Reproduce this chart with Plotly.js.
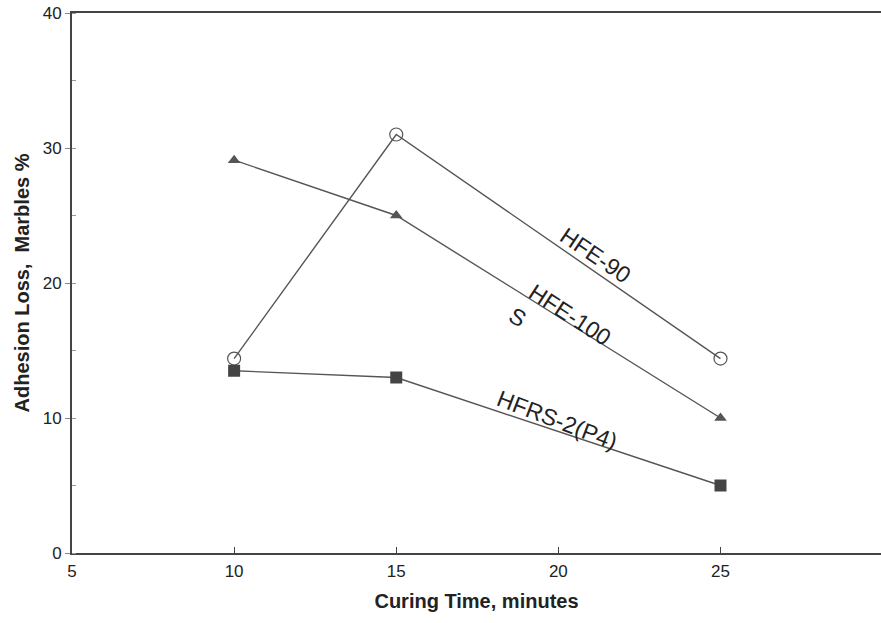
<!DOCTYPE html>
<html>
<head>
<meta charset="utf-8">
<script src="https://cdn.plot.ly/plotly-3.0.1.min.js"></script>
<style>html,body{margin:0;padding:0;background:#fff;}#chart{width:881px;height:623px;}</style>
</head>
<body>
<div id="chart"></div>
<script>
const curingTime = [10, 15, 25];
const hfe90 = [14.4, 31.0, 14.4];
const hfe100 = [29.1, 25.0, 10.0];
const hfrs2 = [13.5, 13.0, 5.0];
const seriesNames = ['HFE-90', 'HFE-100', 'HFRS-2(P4)'];
const xTicks = [5, 10, 15, 20, 25];
const yTicks = [0, 10, 20, 30, 40];

const lineStyle = {color: '#555', width: 1.4};
const traces = [
  {x: curingTime, y: hfe90, name: seriesNames[0], mode: 'lines+markers', line: lineStyle,
   marker: {symbol: 'circle-open', size: 13, color: '#555', line: {width: 1.2, color: '#555'}}},
  {x: curingTime, y: hfe100, name: seriesNames[1], mode: 'lines+markers', line: lineStyle,
   marker: {symbol: 'triangle-up', size: 11, color: '#555'}},
  {x: curingTime, y: hfrs2, name: seriesNames[2], mode: 'lines+markers', line: lineStyle,
   marker: {symbol: 'square', size: 12, color: '#444'}}
];

const labelFont = {family: 'Liberation Sans, Arial, sans-serif', size: 23, color: '#222'};
const layout = {
  width: 881, height: 623,
  margin: {l: 72, r: 0, t: 13, b: 70},
  paper_bgcolor: '#fff', plot_bgcolor: '#fff',
  showlegend: false,
  font: {family: 'Liberation Sans, Arial, sans-serif', color: '#222'},
  xaxis: {
    range: [5, 29.95], tickvals: xTicks, ticktext: xTicks.map(String),
    ticks: 'inside', ticklen: 6, tickcolor: '#444', showgrid: false, zeroline: false,
    showline: true, linecolor: '#444', linewidth: 2, mirror: true,
    tickfont: {size: 17}, ticklabelstandoff: 2,
    title: {text: '<b>Curing Time, minutes</b>', font: {size: 20}, standoff: 14}
  },
  yaxis: {
    range: [0, 40], tickvals: yTicks, ticktext: yTicks.map(String),
    ticks: 'outside', ticklen: 5, tickcolor: '#888', showgrid: false, zeroline: false,
    showline: true, linecolor: '#444', linewidth: 2,
    minor: {ticks: 'inside', dtick: 5, ticklen: 4, tickcolor: '#999'},
    tickfont: {size: 17},
    title: {text: '<b>Adhesion Loss,  Marbles %</b>', font: {size: 20}, standoff: 8}
  },
  annotations: [
    {x: 21.13, y: 22.07, text: seriesNames[0], showarrow: false, textangle: 34, font: labelFont},
    {x: 20.37, y: 17.63, text: seriesNames[1], showarrow: false, textangle: 33, font: labelFont},
    {x: 18.74, y: 17.48, text: 'S', showarrow: false, textangle: 30, font: labelFont},
    {x: 19.97, y: 9.85, text: seriesNames[2], showarrow: false, textangle: 21, font: labelFont}
  ]
};
Plotly.newPlot('chart', traces, layout, {displayModeBar: false, staticPlot: true});
</script>
</body>
</html>
